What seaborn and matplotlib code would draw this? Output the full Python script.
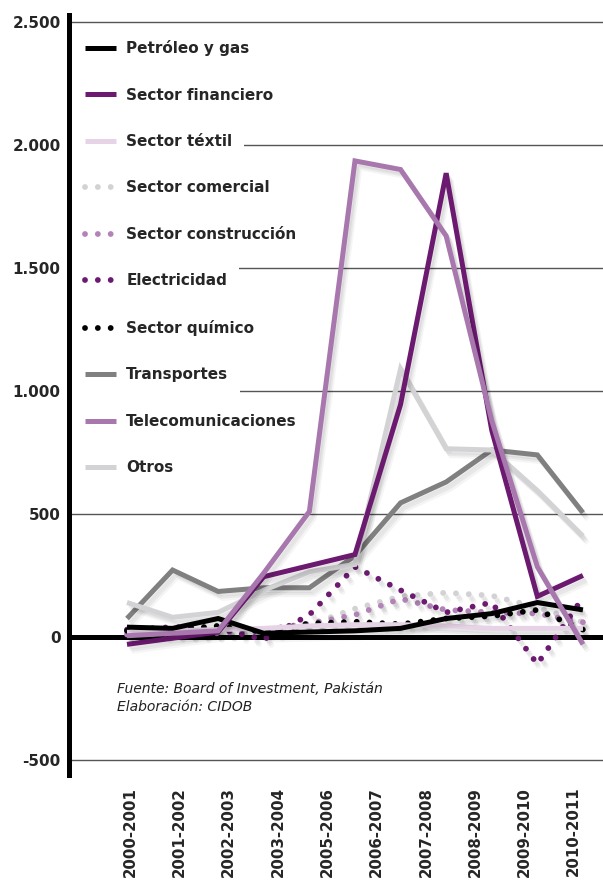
import matplotlib
matplotlib.use('Agg')
import matplotlib.pyplot as plt
import matplotlib.patheffects as pe
from matplotlib.patches import Rectangle
import numpy as np
import pandas as pd
import seaborn as sns

# periodos de los datos (11) y etiquetas que aparecen en el eje (10)
periods = ['2000-2001', '2001-2002', '2002-2003', '2003-2004', '2004-2005', '2005-2006',
           '2006-2007', '2007-2008', '2008-2009', '2009-2010', '2010-2011']
tick_labels = ['2000-2001', '2001-2002', '2002-2003', '2003-2004', '2005-2006',
               '2006-2007', '2007-2008', '2008-2009', '2009-2010', '2010-2011']

petroleo = [40, 35, 75, 15, 20, 25, 35, 75, 95, 140, 110]
financiero = [-30, -5, 20, 245, 290, 335, 945, 1885, 840, 165, 250]
textil = [20, 25, 30, 35, 45, 50, 50, 45, 35, 35, 35]
comercial = [20, 20, 20, 30, 50, 115, 165, 180, 168, 120, 60]
construccion = [10, 15, 15, 30, 55, 90, 155, 110, 100, 95, 60]
electricidad = [30, 40, 35, -10, 90, 285, 190, 100, 140, -110, 160]
quimico = [25, 30, 45, 20, 55, 62, 52, 75, 85, 110, 30]
transportes = [75, 272, 185, 200, 200, 330, 545, 630, 760, 740, 505]
telecom = [5, 15, 25, 260, 510, 1935, 1900, 1630, 880, 285, -30]
otros = [140, 80, 100, 190, 265, 295, 1090, 765, 760, 595, 410]

legend_order = ['Petróleo y gas', 'Sector financiero', 'Sector téxtil', 'Sector comercial',
                'Sector construcción', 'Electricidad', 'Sector químico', 'Transportes',
                'Telecomunicaciones', 'Otros']

# (nombre, valores, color, punteado) en orden de dibujo
series = [
    ('Sector comercial', comercial, '#d2d2d4', True),
    ('Sector construcción', construccion, '#b383b8', True),
    ('Electricidad', electricidad, '#6c1a70', True),
    ('Sector químico', quimico, '#000000', True),
    ('Sector téxtil', textil, '#e6d4e6', False),
    ('Petróleo y gas', petroleo, '#000000', False),
    ('Transportes', transportes, '#808080', False),
    ('Otros', otros, '#d3d3d5', False),
    ('Sector financiero', financiero, '#6c1a70', False),
    ('Telecomunicaciones', telecom, '#a877ae', False),
]

sns.set_style('white')
plt.rcParams['font.family'] = ['DejaVu Sans']

fig = plt.figure(figsize=(6.03, 8.81), dpi=100)
ax = fig.add_axes([69 / 603, 106 / 881, 534 / 603, 760 / 881])

xpos = np.arange(len(periods))
# sombra difusa: varias copias desplazadas con poca opacidad
shadow = [pe.SimpleLineShadow(offset=(1.5, -2), shadow_color='black', alpha=0.05),
          pe.SimpleLineShadow(offset=(2.5, -3.5), shadow_color='black', alpha=0.05),
          pe.SimpleLineShadow(offset=(3.5, -5), shadow_color='black', alpha=0.04),
          pe.Normal()]

handles = {}
for name, vals, color, dotted in series:
    df = pd.DataFrame({'x': xpos, 'y': vals})
    if dotted:
        sns.lineplot(data=df, x='x', y='y', ax=ax, color=color, linewidth=4.2,
                     linestyle=(0, (0.001, 2.2)), dash_capstyle='round', sort=False,
                     label=name)
    else:
        sns.lineplot(data=df, x='x', y='y', ax=ax, color=color, linewidth=3.6,
                     solid_joinstyle='miter', solid_capstyle='butt', sort=False, label=name)
    line = ax.get_lines()[-1]
    line.set_path_effects(shadow)
    handles[name] = line

ax.axhline(0, color='black', linewidth=3.6, zorder=1.8)

ax.set_xlim(-1.272, 10.44)
ax.set_ylim(-561, 2528)

yt = [-500, 0, 500, 1000, 1500, 2000, 2500]
ax.set_yticks(yt)
ax.set_yticklabels([f'{v:,}'.replace(',', '.') for v in yt], fontsize=11, fontweight='bold')
ax.set_xticks(np.linspace(0.07, 9.8, len(tick_labels)))
ax.set_xticklabels(tick_labels, rotation=90, fontsize=10.8, fontweight='bold', va='top')
ax.tick_params(axis='both', length=0)
ax.tick_params(axis='y', pad=6)
ax.tick_params(axis='x', pad=8.5)
ax.set_xlabel('')
ax.set_ylabel('')

ax.set_axisbelow(True)
ax.yaxis.grid(True, color='#555555', linewidth=1.0)
ax.xaxis.grid(False)
for s in ['top', 'right', 'bottom']:
    ax.spines[s].set_visible(False)
ax.spines['left'].set_linewidth(3.6)
ax.spines['left'].set_color('black')

leg = ax.legend([handles[n] for n in legend_order], legend_order, loc='upper left',
                bbox_to_anchor=(0.03, 0.967), frameon=False, borderpad=0, borderaxespad=0,
                handlelength=2.0, handletextpad=0.7, labelspacing=2.06,
                prop={'size': 11, 'weight': 'bold'})
for h in leg.legend_handles:
    h.set_path_effects([])

ax.text(0.09, 0.122, 'Fuente: Board of Investment, Pakistán\nElaboración: CIDOB',
        transform=ax.transAxes, fontsize=10, style='italic', va='top', ha='left',
        linespacing=1.3, color='#222222')

# fondo blanco detrás de cada entrada de la leyenda
fig.canvas.draw()
r = fig.canvas.get_renderer()
inv = ax.transAxes.inverted()
for txt in leg.get_texts():
    bb = txt.get_window_extent(r)
    cy = (bb.y0 + bb.y1) / 2
    x0, y0 = inv.transform((ax.bbox.x0, cy - 22))
    x1, y1 = inv.transform((bb.x1 + 12, cy + 22))
    ax.add_patch(Rectangle((0, y0), x1, y1 - y0, transform=ax.transAxes,
                           facecolor='white', edgecolor='none', zorder=1.5))

fig.savefig('out.png', dpi=100)
